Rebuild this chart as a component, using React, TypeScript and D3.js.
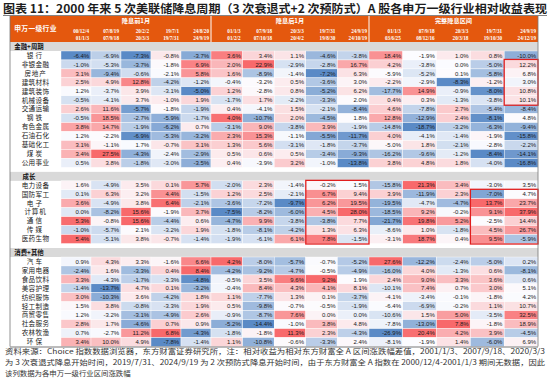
import React from 'react';
import * as d3 from 'd3';

const titleText = '图表 11：2000 年来 5 次美联储降息周期（3 次衰退式+2 次预防式）A 股各申万一级行业相对收益表现';
const footnotes = [
  '资料来源：Choice 指数数据浏览器，东方财富证券研究所，注：相对收益为相对东方财富全 A 区间涨跌幅差值，2001/1/3、2007/9/18、2020/3/3',
  '为 3 次衰退式降息开始时间，2019/7/31、2024/9/19 为 2 次预防式降息开始时间，由于东方财富全 A 指数在 2000/12/4-2001/1/3 期间无数据，因此',
  '该列数据为各申万一级行业区间涨跌幅',
];
const rowHeader = '申万一级行业';
const sectionNames = ['金融+周期', '成长', '消费+其他'];
const finCycleRows = ['银行', '非银金融', '房地产', '建筑材料', '建筑装饰', '机械设备', '交通运输', '钢铁', '有色金属', '石油石化', '基础化工', '煤炭', '公用事业'];
const growthRows = ['电力设备', '国防军工', '电子', '计算机', '通信', '传媒', '医药生物'];
const consumerRows = ['汽车', '家用电器', '食品饮料', '美容护理', '纺织服饰', '轻工制造', '商贸零售', '社会服务', '农林牧渔', '环保'];
const groupTitles = ['降息前1月', '降息后1月', '完整降息区间'];
const startDates = ['00/12/4', '07/8/19', '20/2/2', '19/7/1', '24/8/20', '01/1/3', '07/9/18', '20/3/3', '19/7/31', '24/9/19', '01/1/3', '07/9/18', '20/3/3', '19/7/31', '24/9/19'];
const endDates = ['01/1/3', '07/9/18', '20/3/3', '19/7/31', '24/9/19', '01/2/2', '07/10/18', '20/4/2', '19/8/30', '24/10/19', '03/6/25', '08/12/16', '20/3/18', '19/10/30', '24/12/19'];

// 降息前1月 (%), rows in industry order
const before1m = [
  [-6.4, -6.9, -7.3, -0.8, -3.7],
  [-1.0, -5.3, -3.7, -1.8, 6.9],
  [3.1, -9.4, -0.6, -2.1, 5.8],
  [2.5, 4.9, 12.8, -4.2, -1.2],
  [1.2, -3.7, 3.9, -3.1, -5.0],
  [-0.5, -4.1, 3.7, -1.0, 1.9],
  [2.6, 11.6, -5.7, -1.8, -1.9],
  [-0.5, 18.5, -2.7, -5.9, -1.7],
  [3.8, 14.7, -1.9, -6.2, 0.7],
  [1.2, -2.2, -6.9, -5.3, -3.2],
  [3.1, -1.1, 1.7, -0.7, 3.1],
  [3.4, 27.5, -4.3, -2.4, -2.9],
  [0.5, 3.8, -1.8, -3.0, -3.5],
  [1.6, -4.9, 3.5, 0.1, 5.7],
  [0.1, 6.3, 3.2, 4.4, -1.5],
  [3.6, -4.9, 3.8, 6.4, -2.1],
  [0.0, -8.2, 15.6, -1.9, 3.7],
  [5.3, -0.8, 15.6, -4.4, 0.6],
  [-1.0, -5.7, 2.1, -3.2, 1.9],
  [5.4, -5.1, 3.8, -0.7, -1.4],
  [0.9, 4.3, 3.3, -1.6, 6.6],
  [-2.4, 1.6, -3.3, 0.4, 8.4],
  [3.3, -4.3, -1.7, -3.3, -4.8],
  [-1.4, -13.7, 4.7, 0.1, -3.2],
  [3.0, -10.3, 3.6, -4.2, 1.8],
  [1.5, 3.8, -0.8, -3.3, 1.9],
  [1.2, -3.2, -3.1, -4.9, 2.6],
  [2.8, 1.7, -4.6, 0.7, 0.9],
  [0.7, -2.7, 11.2, 6.8, -4.3],
  [3.4, 10.0, 4.9, -7.8, -1.4],
];
// 降息后1月 (%)
const after1m = [
  [3.6, 3.4, 1.1, -4.6, -3.8],
  [2.0, 22.9, -2.9, -2.8, 16.7],
  [1.6, -8.9, -1.4, -7.2, 6.3],
  [-0.4, -3.2, 0.5, -3.6, 3.0],
  [1.2, -2.8, 0.8, -5.2, 6.2],
  [-1.7, 1.7, -2.2, -3.3, 2.0],
  [0.4, -4.1, 1.5, -2.1, -8.4],
  [4.0, -10.7, 2.0, -4.5, 1.8],
  [-3.1, 9.0, -3.8, 3.9, -1.9],
  [2.3, 15.3, -1.1, -5.5, -11.7],
  [1.3, 5.6, -3.1, -1.8, -3.7],
  [0.5, 0.6, 0.5, -3.4, -9.3],
  [0.4, -3.9, 3.2, -1.0, -13.8],
  [-2.0, 2.3, -1.4, -0.2, 1.5],
  [1.2, 2.5, -2.1, 6.7, 9.4],
  [-3.6, -7.2, -9.7, 6.2, 19.5],
  [-7.5, -8.2, -6.0, 4.5, 28.0],
  [-4.7, 9.9, -3.8, -3.8, 7.7],
  [-1.8, -8.1, -4.2, 1.3, 6.3],
  [-1.9, -6.1, 6.1, 7.8, -1.5],
  [4.2, -8.0, -5.7, -0.7, -5.2],
  [-4.2, -9.2, -4.7, -0.5, -4.9],
  [-0.5, 3.5, 9.6, 9.2, 1.9],
  [-0.4, 8.4, 4.3, 4.1, 8.1],
  [1.1, -7.7, 1.3, 0.1, -3.7],
  [0.5, -9.8, -0.7, -0.5, -1.9],
  [-0.9, -8.7, 7.6, 0.0, 0.0],
  [-5.2, -14.4, -1.0, 3.8, 4.8],
  [-1.8, -1.8, 11.3, 2.3, -4.3],
  [1.1, -10.8, -0.6, -3.3, 2.4],
];
// 完整降息区间 (%)
const fullCycle = [
  [18.4, -1.9, 1.0, 0.8, -10.0],
  [4.2, -3.8, 0.0, -5.0, 12.2],
  [-5.9, -5.2, 0.1, -5.8, 6.8],
  [-2.2, -2.9, -8.3, -1.2, 3.0],
  [-17.7, 14.9, -0.9, -8.0, 10.8],
  [0.4, 0.3, -1.3, -3.8, 10.1],
  [4.6, -7.8, 2.7, -5.4, -8.4],
  [12.8, -12.9, 2.4, -8.1, 4.8],
  [-14.8, -18.7, -3.2, -6.3, -9.4],
  [4.0, -4.1, -1.4, -1.9, -15.8],
  [-5.0, 1.8, -2.1, -2.8, -2.2],
  [-16.2, -9.6, -1.2, -8.4, -14.1],
  [3.8, 4.8, 1.8, -4.0, -16.8],
  [-15.8, 21.3, 3.4, -3.0, 3.5],
  [3.9, -11.9, 2.3, -7.0, 4.7],
  [-19.5, -4.7, -4.7, 13.7, 23.7],
  [-18.5, 9.2, -0.2, 9.1, 37.9],
  [-21.7, 19.8, 5.2, -2.5, 14.4],
  [-8.6, 1.0, -1.8, 4.5, 26.7],
  [-3.1, 18.7, 0.4, 9.5, -5.9],
  [27.6, -12.2, -2.4, -5.0, 0.2],
  [-16.0, 4.0, -1.3, 0.6, -8.1],
  [2.4, 9.0, 3.3, 3.6, 0.6],
  [-10.1, 7.4, 0.7, 3.0, 5.1],
  [-4.1, -3.4, -0.1, -1.8, 4.2],
  [-6.4, -6.9, -0.2, 1.1, 10.7],
  [-10.6, 1.5, 5.0, -3.5, 32.5],
  [-7.8, -13.0, 7.8, -1.8, 18.9],
  [-26.9, 20.4, 4.2, 3.9, -4.5],
  [-8.1, -1.9, 1.4, -6.0, 6.9],
];
// highlighted blocks: [first column index, last column index, first industry, last industry]
const highlights: [number, number, string, string][] = [
  [14, 14, '非银金融', '机械设备'],
  [8, 9, '电力设备', '医药生物'],
  [13, 14, '国防军工', '医药生物'],
];

const W = 550;
const H = 380;
const ORANGE = '#E4580E';
const GRAY = '#D9D9D9';
const CJK = "'Noto Sans CJK SC', 'Noto Sans', sans-serif";
const NUM = "'Liberation Sans', Arial, sans-serif";

export default function App() {
  const tableLeft = 10;
  const labelRight = 61;
  const tableRight = 538;
  const groupRanges: [number, number][] = [[61, 211], [211, 369], [369, 538]];
  const groupScales = groupRanges.map((r) => d3.scaleBand<number>().domain([0, 1, 2, 3, 4]).range(r));
  const colX = (c: number) => groupScales[Math.floor(c / 5)](c % 5) as number;
  const colW = (c: number) => groupScales[Math.floor(c / 5)].bandwidth();

  const headerTop = 16;
  const headerBottom = 42;
  const bandH = 9;
  const rowH = 8.95;
  const gap = 4.5;

  const sectionRows = [finCycleRows, growthRows, consumerRows];
  const allRows = sectionRows.flat();
  const allValues = allRows.map((_, i) => [...before1m[i], ...after1m[i], ...fullCycle[i]]);

  // layout rows
  let cursor = headerBottom;
  const bands: { name: string; y: number }[] = [];
  const rowY: number[] = [];
  sectionRows.forEach((rows, s) => {
    if (s > 0) cursor += gap;
    bands.push({ name: sectionNames[s], y: cursor });
    cursor += bandH;
    rows.forEach(() => {
      rowY.push(cursor);
      cursor += rowH;
    });
  });
  const tableBottom = cursor;

  // per-column 3-colour scale (min / median / max)
  const colScales = d3.range(15).map((c) => {
    const vals = allValues.map((r) => r[c]);
    const mn = d3.min(vals) as number;
    const mx = d3.max(vals) as number;
    const md = d3.median(vals) as number;
    return d3
      .scaleLinear<string>()
      .domain([mn, md, mx])
      .range(['#5A8AC6', '#FCFCFF', '#F8696B'])
      .interpolate(d3.interpolateRgb)
      .clamp(true);
  });

  const labelCx = (tableLeft + labelRight) / 2;

  return (
    <svg width={W} height={H} style={{ position: 'absolute', left: 0, top: 0, background: '#fff' }}>
      <text x={3} y={13} fontFamily={CJK} fontWeight={700} fontSize={11.6} fill="#1d1d1d" textLength={544} lengthAdjust="spacingAndGlyphs">
        {titleText}
      </text>
      <line x1={3} x2={547} y1={15.5} y2={15.5} stroke="#666" strokeWidth={0.8} />

      {/* header */}
      <rect x={tableLeft} y={headerTop} width={tableRight - tableLeft} height={headerBottom - headerTop} fill={ORANGE} />
      {groupRanges.map((r, g) => (
        <text key={'gt' + g} x={(r[0] + r[1]) / 2} y={21} dy="0.35em" textAnchor="middle" fontFamily={CJK} fontWeight={700} fontSize={6.2} fill="#fff">
          {groupTitles[g]}
        </text>
      ))}
      {groupRanges.slice(1).map((r, g) => (
        <line key={'gs' + g} x1={r[0]} x2={r[0]} y1={headerTop} y2={headerBottom} stroke="#fff" strokeWidth={1} />
      ))}
      <text x={labelCx} y={29} dy="0.35em" textAnchor="middle" fontFamily={CJK} fontWeight={700} fontSize={6.8} fill="#fff" letterSpacing={0.3}>
        {rowHeader}
      </text>
      {startDates.map((d, c) => (
        <text key={'sd' + c} x={colX(c) + colW(c) - 2} y={31.5} dy="0.35em" textAnchor="end" fontFamily="'Liberation Serif', serif" fontWeight={700} fontSize={5.2} fill="#fff">
          {d}
        </text>
      ))}
      {endDates.map((d, c) => (
        <text key={'ed' + c} x={colX(c) + colW(c) - 2} y={38.6} dy="0.35em" textAnchor="end" fontFamily="'Liberation Serif', serif" fontWeight={700} fontSize={5.2} fill="#fff">
          {d}
        </text>
      ))}

      {/* section bands */}
      {bands.map((b, i) => (
        <g key={'b' + i}>
          <rect x={tableLeft} y={b.y} width={tableRight - tableLeft} height={bandH} fill={GRAY} />
          <text x={29} y={b.y + bandH / 2} dy="0.35em" textAnchor="middle" fontFamily={CJK} fontWeight={700} fontSize={6.4} fill="#111">
            {b.name}
          </text>
        </g>
      ))}

      {/* rows */}
      {allRows.map((name, i) => (
        <g key={'r' + i}>
          <text x={labelCx} y={rowY[i] + rowH / 2} dy="0.35em" textAnchor="middle" fontFamily={CJK} fontSize={6.6} fill="#222" letterSpacing={name.length === 2 ? 2.2 : name.length === 3 ? 0.8 : 0.3}>
            {name}
          </text>
          {allValues[i].map((v, c) => (
            <g key={'c' + c}>
              <rect x={colX(c)} y={rowY[i]} width={colW(c)} height={rowH} fill={colScales[c](v)} stroke="#fff" strokeWidth={0.4} />
              <text x={colX(c) + colW(c) - 1.8} y={rowY[i] + rowH / 2} dy="0.36em" textAnchor="end" fontFamily={NUM} fontSize={6} fill="#1a1a1a">
                {v.toFixed(1) + '%'}
              </text>
            </g>
          ))}
        </g>
      ))}

      {/* highlight boxes */}
      {highlights.map(([c0, c1, r0, r1], k) => {
        const i0 = allRows.indexOf(r0);
        const i1 = allRows.indexOf(r1);
        const x0 = colX(c0);
        const x1 = colX(c1) + colW(c1);
        return (
          <rect key={'h' + k} x={x0} y={rowY[i0] - 0.5} width={x1 - x0} height={rowY[i1] + rowH - rowY[i0] + 1} fill="none" stroke="#E01E1E" strokeWidth={1.3} />
        );
      })}

      {/* borders */}
      <line x1={tableLeft} x2={tableLeft} y1={headerTop} y2={tableBottom} stroke="#777" strokeWidth={0.8} />
      <line x1={tableRight} x2={tableRight} y1={headerTop} y2={tableBottom} stroke="#777" strokeWidth={0.8} />
      <line x1={tableLeft} x2={tableRight} y1={tableBottom + 0.5} y2={tableBottom + 0.5} stroke="#555" strokeWidth={0.8} />

      {/* footnotes */}
      {footnotes.map((t, i) => (
        <text key={'f' + i} x={5} y={354 + i * 11} fontFamily={CJK} fontSize={7.4} fill="#333" textLength={i < 2 ? 540 : undefined} lengthAdjust="spacingAndGlyphs">
          {t}
        </text>
      ))}
    </svg>
  );
}
